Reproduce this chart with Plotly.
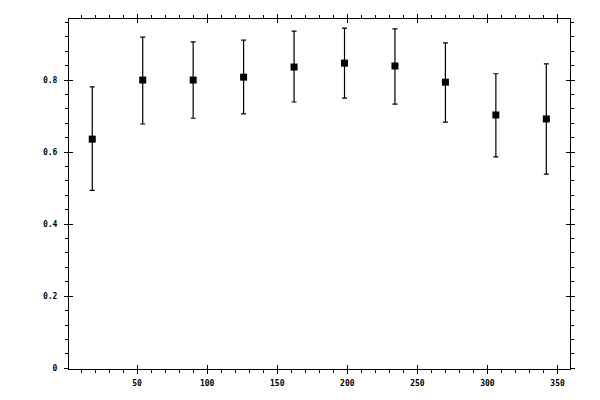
import plotly.graph_objects as go

x_vals = [18, 54, 90, 126, 162, 198, 234, 270, 306, 342]
y_vals = [0.636, 0.800, 0.800, 0.808, 0.836, 0.847, 0.839, 0.794, 0.703, 0.692]
y_upper = [0.781, 0.919, 0.906, 0.911, 0.936, 0.944, 0.942, 0.903, 0.8175, 0.845]
y_lower = [0.494, 0.678, 0.694, 0.706, 0.739, 0.750, 0.733, 0.683, 0.587, 0.539]

x_ticks = [50, 100, 150, 200, 250, 300, 350]
x_labels = ["50", "100", "150", "200", "250", "300", "350"]
y_ticks = [0, 0.2, 0.4, 0.6, 0.8]
y_labels = ["0", "0.2", "0.4", "0.6", "0.8"]

plus = [u - v for u, v in zip(y_upper, y_vals)]
minus = [v - l for v, l in zip(y_vals, y_lower)]

XR = [1.4, 358.9]
YR = [-0.002, 0.9694]

fig = go.Figure()
fig.add_trace(go.Scatter(
    x=x_vals, y=y_vals, mode="markers",
    marker=dict(symbol="square", size=7, color="black"),
    error_y=dict(type="data", symmetric=False, array=plus, arrayminus=minus,
                 color="black", thickness=1.2, width=2.5),
    showlegend=False, hoverinfo="skip",
))
fig.add_trace(go.Scatter(x=[None], y=[None], xaxis="x2", yaxis="y2",
                         showlegend=False, hoverinfo="skip"))

font = dict(family="DejaVu Sans Mono", size=8, color="black", weight="bold")
common = dict(showline=True, linecolor="black", linewidth=1, mirror="allticks",
              showgrid=False, zeroline=False, tickcolor="black", tickwidth=1,
              tickfont=font, automargin=False)

# page body has an 8px offset, margins compensate for it
fig.update_layout(
    width=600, height=400,
    margin=dict(l=61, r=38, t=11, b=39, autoexpand=False),
    paper_bgcolor="white", plot_bgcolor="white",
    xaxis=dict(range=XR, tickvals=x_ticks, ticktext=x_labels, ticks="outside",
               ticklen=4, ticklabelstandoff=2,
               minor=dict(dtick=10, tick0=0, ticks="outside", ticklen=3,
                          tickcolor="black", tickwidth=1, showgrid=False),
               **common),
    yaxis=dict(range=YR, tickvals=y_ticks, ticktext=y_labels, ticks="outside",
               ticklen=4, ticklabelstandoff=5,
               minor=dict(dtick=0.04, tick0=0, ticks="outside", ticklen=3,
                          tickcolor="black", tickwidth=1, showgrid=False),
               **common),
    xaxis2=dict(range=XR, overlaying="x", anchor="y2", tickvals=x_ticks,
                ticks="inside", ticklen=4, showticklabels=False, **common),
    yaxis2=dict(range=YR, overlaying="y", anchor="x2", tickvals=y_ticks,
                ticks="inside", ticklen=4, showticklabels=False, **common),
)

fig.write_html("out.html")
